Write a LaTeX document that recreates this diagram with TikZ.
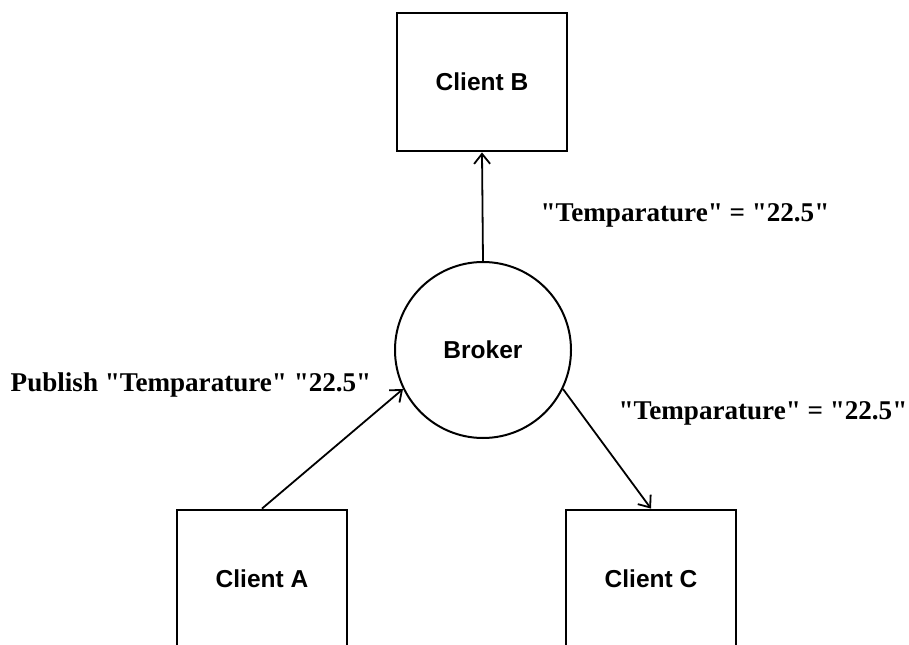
\documentclass[tikz,border=0pt]{standalone}
\usepackage{fontspec}
\setmainfont{Liberation Serif}[Ligatures=TeXOff]
\setsansfont{Liberation Sans}
\usetikzlibrary{arrows.meta}
\begin{document}
\begin{tikzpicture}[x=0.5bp,y=-0.5bp,
  client/.style={draw,line width=1.4bp,minimum width=85bp,minimum height=69bp,font=\sffamily\bfseries\fontsize{12.3}{14}\selectfont},
  hub/.style={draw,circle,line width=1bp,minimum size=88bp,font=\sffamily\bfseries\fontsize{12.3}{14}\selectfont},
  msg/.style={font=\bfseries\fontsize{13.6}{16}\selectfont},
  arr/.style={line width=0.9bp,-{Straight Barb[length=5bp,width=8bp]}}]
\clip (0,0) rectangle (909,645);
\node[client] (clientB) at (482,82) {Client B};
\node[hub] (broker) at (483,350) {Broker};
\node[client] (clientA) at (262,579) {Client A};
\node[client] (clientC) at (651,579) {Client C};
\node[msg] (msgB) at (685,215) {"Temparature" = "22.5"};
\node[msg] (msgPub) at (191,385) {Publish "Temparature" "22.5"};
\node[msg] (msgC) at (763,413) {"Temparature" = "22.5"};
\draw[arr] (broker.north) -- (clientB.south);
\draw[arr] (clientA.north) -- (broker.206);
\draw[arr] (broker.334) -- (clientC.north);
\end{tikzpicture}
\end{document}
